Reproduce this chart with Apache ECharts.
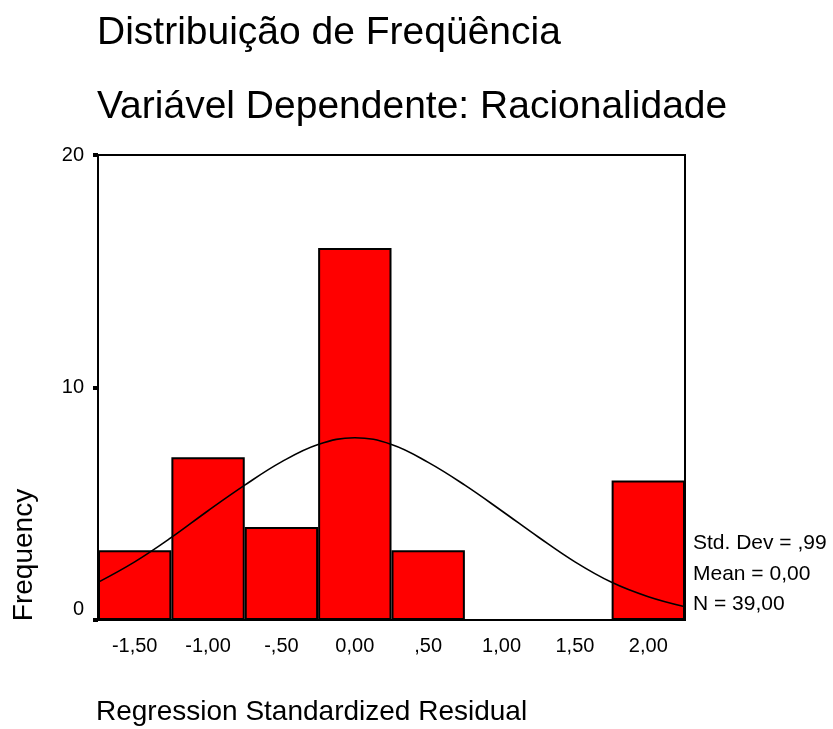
<!DOCTYPE html>
<html>
<head>
<meta charset="utf-8">
<script src="https://cdn.jsdelivr.net/npm/echarts@6/dist/echarts.min.js"></script>
<style>
  html, body { margin: 0; padding: 0; background: #fff; }
  #chart { width: 833px; height: 729px; }
</style>
</head>
<body>
<div id="chart"></div>
<script>
// Histogram of regression residuals (SPSS style) with fitted normal curve
const binLabels = ["-1,50", "-1,00", "-,50", "0,00", ",50", "1,00", "1,50", "2,00"];
const binCounts = [3, 7, 4, 16, 3, 0, 0, 6];

// normal curve at 0.25 steps
const curveX = [-1.75, -1.5, -1.25, -1.0, -0.75, -0.5, -0.25, 0, 0.25, 0.5, 0.75, 1.0, 1.25, 1.5, 1.75, 2.0, 2.25];
const curveY = [1.62, 2.5, 3.55, 4.7, 5.8, 6.8, 7.55, 7.84, 7.55, 6.78, 5.8, 4.7, 3.57, 2.5, 1.62, 1.0, 0.57];

const yTicks = [0, 10, 20];
const statsLines = ["Std. Dev = ,99", "Mean = 0,00", "N = 39,00"];

const font = "'Liberation Sans', Arial, sans-serif";
const chart = echarts.init(document.getElementById("chart"), null, { renderer: "canvas" });

chart.setOption({
    animation: false,
    backgroundColor: "#fff",
    textStyle: { fontFamily: font, color: "#000" },
    title: [
        { text: "Distribuição de Freqüência", left: 92, top: 9,
          textStyle: { fontFamily: font, fontSize: 39, fontWeight: "normal", color: "#000" } },
        { text: "Variável Dependente: Racionalidade", left: 92, top: 83,
          textStyle: { fontFamily: font, fontSize: 39, fontWeight: "normal", color: "#000" } }
    ],
    grid: {
        left: 98, right: 148, top: 155, bottom: 109,
        show: true, borderColor: "#000", borderWidth: 2, backgroundColor: "transparent"
    },
    xAxis: [
        {
            type: "category",
            data: binLabels,
            boundaryGap: true,
            axisLine: { onZero: false, lineStyle: { color: "#000", width: 2 } },
            axisTick: { alignWithLabel: true, length: 7, lineStyle: { color: "#000", width: 5 } },
            axisLabel: { color: "#000", fontSize: 20, margin: 16, fontFamily: font },
            splitLine: { show: false }
        },
        {
            type: "value",
            min: -1.75, max: 2.25,
            show: false
        }
    ],
    yAxis: {
        type: "value",
        min: yTicks[0], max: yTicks[yTicks.length - 1], interval: 10,
        axisLine: { show: true, onZero: false, lineStyle: { color: "#000", width: 2 } },
        axisTick: { show: true, length: 5, lineStyle: { color: "#000", width: 4 } },
        axisLabel: {
            color: "#000", fontSize: 20, margin: 14, fontFamily: font,
            formatter: v => v === 0 ? "{zero|0}" : String(v),
            rich: { zero: { fontSize: 20, fontFamily: font, color: "#000", padding: [0, 0, 22, 0] } }
        },
        splitLine: { show: false }
    },
    series: [
        {
            type: "bar",
            data: binCounts,
            barWidth: "100%",
            barCategoryGap: 0,
            itemStyle: { color: "#ff0000", borderColor: "#000", borderWidth: 2 }
        },
        {
            type: "line",
            xAxisIndex: 1,
            data: curveX.map((x, i) => [x, curveY[i]]),
            smooth: 0.4,
            showSymbol: false,
            lineStyle: { color: "#000", width: 1.6 },
            z: 5
        }
    ],
    graphic: [
        { type: "text", left: 96, top: 698,
          style: { text: "Regression Standardized Residual", font: "28px " + font, fill: "#000" } },
        { type: "text", x: 24, y: 555, rotation: Math.PI / 2,
          style: { text: "Frequency", font: "28px " + font, fill: "#000", align: "center", verticalAlign: "middle" } },
        { type: "text", left: 693, top: 533,
          style: { text: statsLines[0], font: "21px " + font, fill: "#000" } },
        { type: "text", left: 693, top: 564,
          style: { text: statsLines[1], font: "21px " + font, fill: "#000" } },
        { type: "text", left: 693, top: 594,
          style: { text: statsLines[2], font: "21px " + font, fill: "#000" } }
    ]
});

window.addEventListener("resize", () => chart.resize());
</script>
</body>
</html>
